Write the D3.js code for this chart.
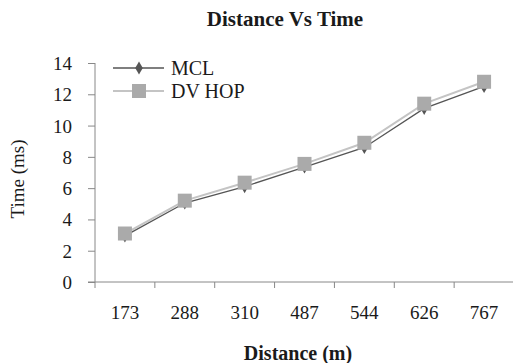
<!DOCTYPE html>
<html>
<head>
<meta charset="utf-8">
<script src="https://cdn.jsdelivr.net/npm/d3@7"></script>
<style>
  body { margin: 0; background: #fff; }
  svg text { font-family: "Liberation Serif", "Times New Roman", serif; fill: #1a1a1a; }
</style>
</head>
<body>
<div id="chart"></div>
<script>
const distances = ['173', '288', '310', '487', '544', '626', '767'];
const mclTimes = [2.95, 5.05, 6.1, 7.35, 8.6, 11.1, 12.5];
const dvHopTimes = [3.1, 5.2, 6.35, 7.55, 8.9, 11.4, 12.8];
const yTicks = [0, 2, 4, 6, 8, 10, 12, 14];

const width = 513, height = 363;
const margin = { top: 63, right: -1, bottom: 81, left: 95 };

const svg = d3.select('#chart')
  .append('svg')
  .attr('width', width)
  .attr('height', height);

const x = d3.scaleBand()
  .domain(distances)
  .range([margin.left, width - margin.right]);

const y = d3.scaleLinear()
  .domain([0, 14])
  .range([height - margin.bottom, margin.top]);

// y axis
const yAxis = svg.append('g')
  .attr('transform', `translate(${margin.left},0)`)
  .call(d3.axisLeft(y).tickValues(yTicks).tickSize(7).tickPadding(16));
yAxis.select('.domain').attr('stroke', '#888').attr('d', `M0,${y(0)}V${y(14)}`);
yAxis.selectAll('.tick line').attr('stroke', '#888');
yAxis.selectAll('.tick text').attr('font-size', 19).attr('dy', '0.34em');

// x axis
const xAxis = svg.append('g')
  .attr('transform', `translate(0,${y(0)})`)
  .call(d3.axisBottom(x).tickSize(0).tickPadding(24));
xAxis.select('.domain').attr('stroke', '#888')
  .attr('d', `M${margin.left - 7},0H${width}`);
xAxis.selectAll('.tick text').attr('font-size', 19);
// category boundary ticks
xAxis.selectAll('.sep')
  .data(distances)
  .enter().append('line')
  .attr('x1', d => x(d)).attr('x2', d => x(d))
  .attr('y1', 0).attr('y2', 6)
  .attr('stroke', '#888');

const line = d3.line()
  .x((d, i) => x(distances[i]) + x.bandwidth() / 2)
  .y(d => y(d));

// DV HOP line (light, drawn under)
svg.append('path')
  .datum(dvHopTimes)
  .attr('fill', 'none')
  .attr('stroke', '#c4c4c4')
  .attr('stroke-width', 2)
  .attr('d', line);

// MCL line
svg.append('path')
  .datum(mclTimes)
  .attr('fill', 'none')
  .attr('stroke', '#555')
  .attr('stroke-width', 1.3)
  .attr('d', line);

const diamond = d3.symbol().type(d3.symbolDiamond).size(50);

svg.append('g').selectAll('path')
  .data(mclTimes)
  .enter().append('path')
  .attr('d', diamond)
  .attr('fill', '#555')
  .attr('transform', (d, i) => `translate(${x(distances[i]) + x.bandwidth() / 2},${y(d)})`);

svg.append('g').selectAll('rect')
  .data(dvHopTimes)
  .enter().append('rect')
  .attr('x', (d, i) => x(distances[i]) + x.bandwidth() / 2 - 7)
  .attr('y', d => y(d) - 7)
  .attr('width', 14)
  .attr('height', 14)
  .attr('fill', '#aaa');

// legend
const legend = svg.append('g');
const entries = [
  { name: 'MCL', color: '#555', stroke: 1.3, y: 68 },
  { name: 'DV HOP', color: '#c4c4c4', stroke: 2, y: 91 }
];
entries.forEach((e, i) => {
  legend.append('line')
    .attr('x1', 113).attr('x2', 164)
    .attr('y1', e.y).attr('y2', e.y)
    .attr('stroke', e.color).attr('stroke-width', e.stroke);
  if (i === 0) {
    legend.append('path').attr('d', diamond).attr('fill', '#555')
      .attr('transform', `translate(139,${e.y})`);
  } else {
    legend.append('rect').attr('x', 132).attr('y', e.y - 7)
      .attr('width', 14).attr('height', 14).attr('fill', '#aaa');
  }
  legend.append('text')
    .attr('x', 171).attr('y', e.y + 7)
    .attr('font-size', 20)
    .text(e.name);
});

// titles
svg.append('text')
  .attr('x', 285).attr('y', 26)
  .attr('text-anchor', 'middle')
  .attr('font-size', 21)
  .attr('font-weight', 'bold')
  .text('Distance Vs Time');

svg.append('text')
  .attr('x', 298).attr('y', 360)
  .attr('text-anchor', 'middle')
  .attr('font-size', 20)
  .attr('font-weight', 'bold')
  .text('Distance (m)');

svg.append('text')
  .attr('transform', 'translate(24,179) rotate(-90)')
  .attr('text-anchor', 'middle')
  .attr('font-size', 19)
  .text('Time (ms)');
</script>
</body>
</html>
